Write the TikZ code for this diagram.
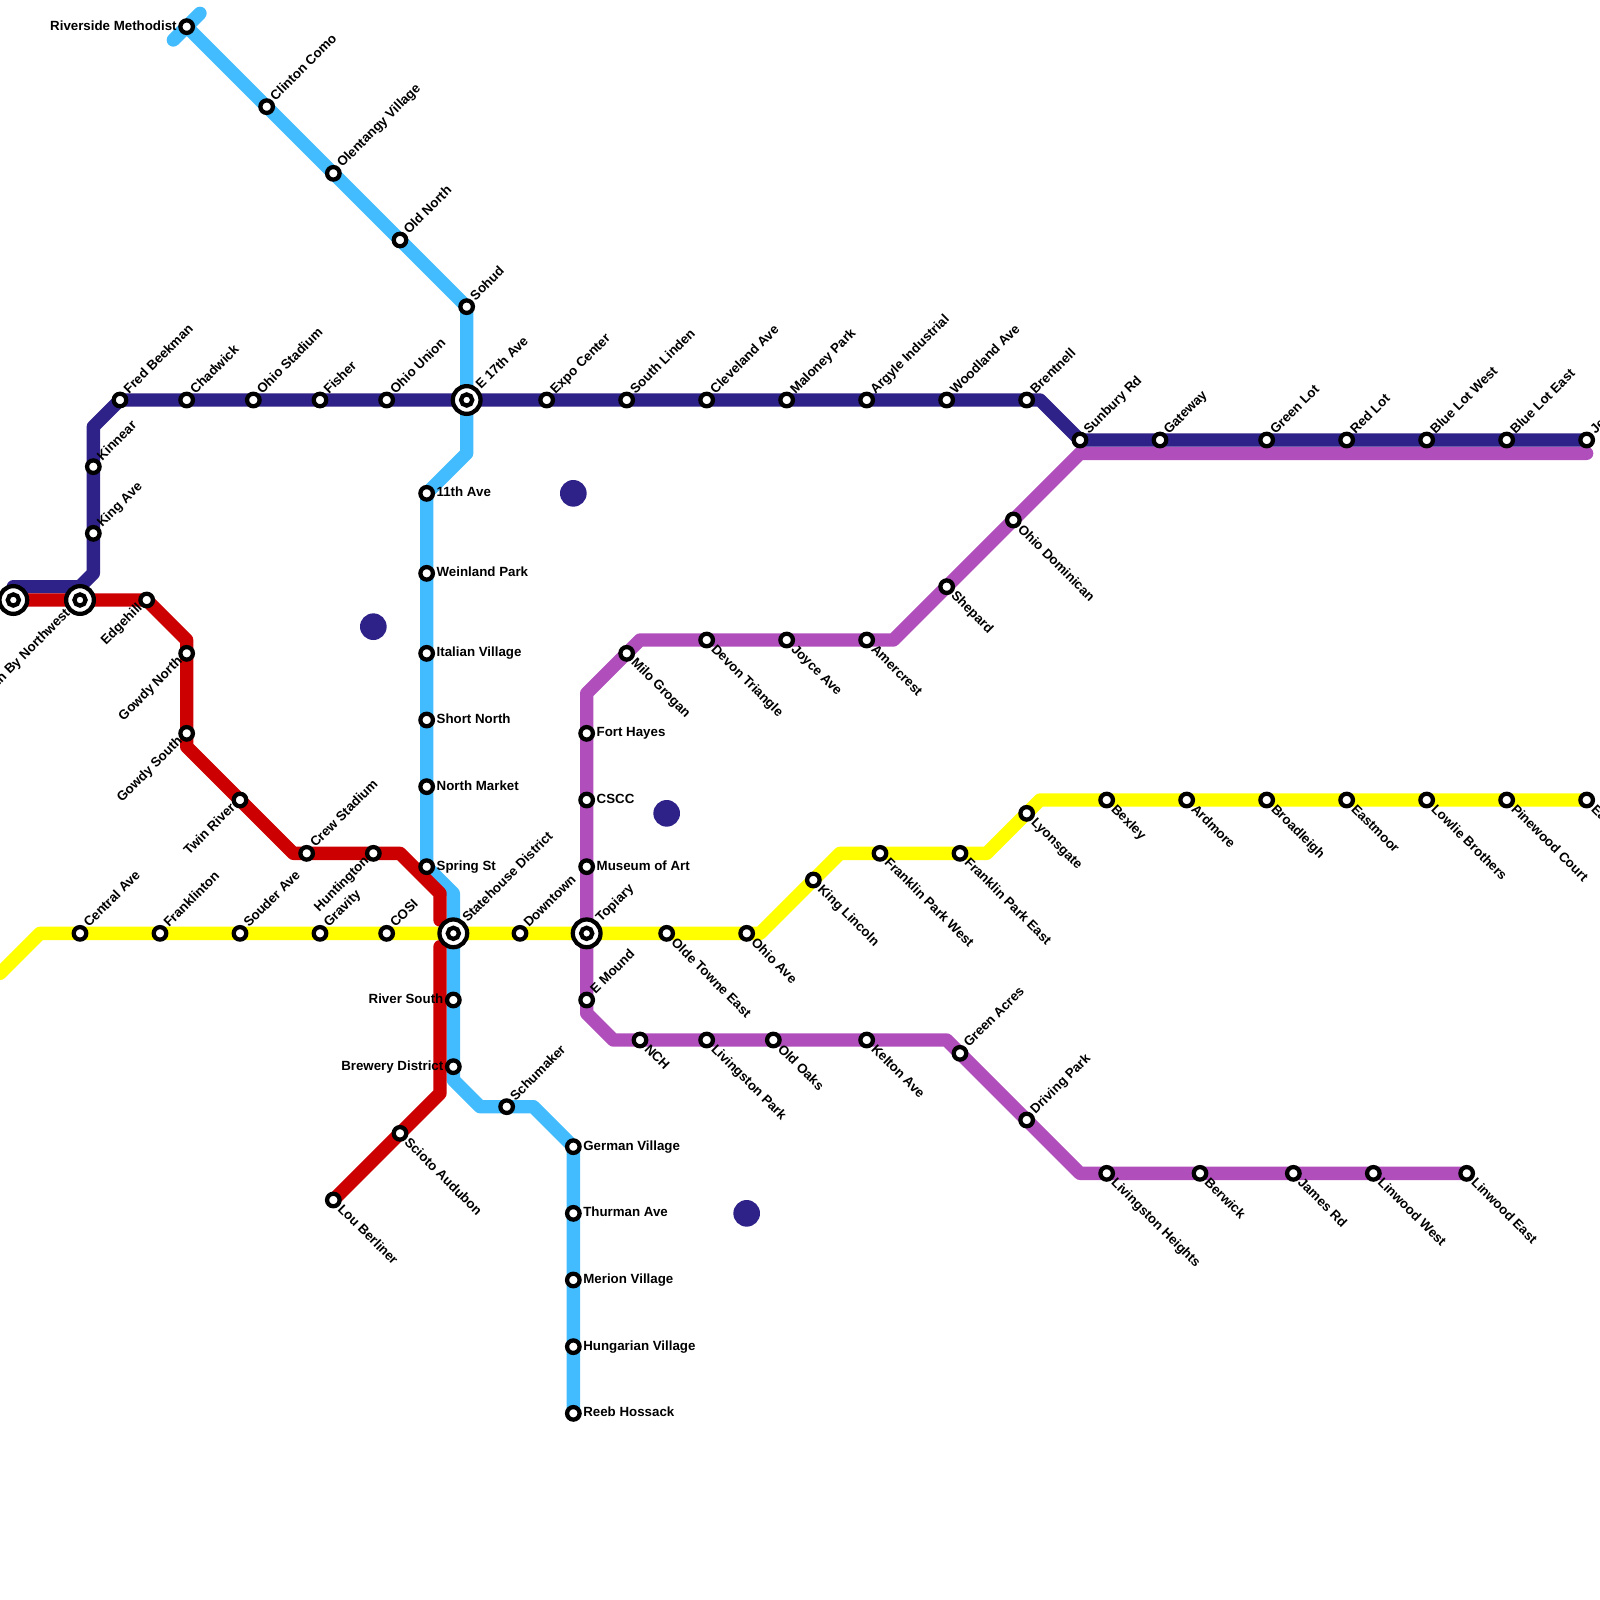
\documentclass[tikz,border=0pt]{standalone}
\usepackage{fontspec}
\setmainfont{Liberation Sans}
\usetikzlibrary{backgrounds}
\definecolor{navyline}{HTML}{2E2188}
\definecolor{skyline}{HTML}{42BBFF}
\definecolor{redline}{HTML}{CC0000}
\definecolor{yellowline}{HTML}{FFFF00}
\definecolor{purpleline}{HTML}{B04FBB}
\newlength{\pxu}\setlength{\pxu}{0.375mm}
\tikzset{
  x=0.5cm,y=-0.5cm,
  metroline/.style={line width=5mm,line cap=round,line join=round},
  stnode/.style={circle,draw=black,fill=white,line width=1.6mm,minimum size=4.7mm,inner sep=0pt,outer sep=0pt},
  hubnode/.style={circle,draw=black,fill=white,line width=1.6mm,minimum size=10.4mm,inner sep=0pt,outer sep=0pt},
  hubcore/.style={circle,draw=black,fill=white,line width=1.6mm,minimum size=4.2mm,inner sep=0pt,outer sep=0pt},
  blob/.style={circle,fill=navyline,minimum size=10mm,inner sep=0pt,outer sep=0pt},
  labbase/.style={inner sep=0pt,outer sep=0pt,font=\fontsize{14.2}{14.2}\selectfont\bfseries,text=black},
  labNE/.style={labbase,anchor=base west,xshift=9*\pxu,yshift=5.4*\pxu,rotate=45},
  labSE/.style={labbase,anchor=base west,xshift=3.9*\pxu,yshift=-10*\pxu,rotate=-45},
  labE/.style={labbase,anchor=base west,xshift=10*\pxu,yshift=-3.5*\pxu},
  labW/.style={labbase,anchor=base east,xshift=-10*\pxu,yshift=-3.5*\pxu},
  labSW/.style={labbase,anchor=base east,xshift=-3.9*\pxu,yshift=-8.7*\pxu,rotate=45},
  hubNE/.style={xshift=5.5*\pxu,yshift=5*\pxu},
  hubSW/.style={xshift=-5.5*\pxu,yshift=-5.5*\pxu},
}
\newcommand{\stn}[5]{\node[stnode] (#1) at (#2,#3) {};\node[lab#4] (#1t) at (#2,#3) {#5};}
\newcommand{\hub}[5]{\node[hubnode] (#1) at (#2,#3) {};\node[hubcore] (#1c) at (#2,#3) {};\node[hub#4,lab#4] (#1t) at (#2,#3) {#5};}
\begin{document}
\begin{tikzpicture}
\clip (0,0) rectangle (120,120);
% navy stations
\node[hubnode] (h1) at (1,45) {};\node[hubcore] (h1c) at (1,45) {};
\hub{nbn}{6}{45}{SW}{North By Northwest}
\stn{kinnear}{7}{35}{NE}{Kinnear}
\stn{king}{7}{40}{NE}{King Ave}
\stn{fred}{9}{30}{NE}{Fred Beekman}
\stn{chadwick}{14}{30}{NE}{Chadwick}
\stn{ohiostad}{19}{30}{NE}{Ohio Stadium}
\stn{fisher}{24}{30}{NE}{Fisher}
\stn{ohiounion}{29}{30}{NE}{Ohio Union}
\hub{e17}{35}{30}{NE}{E 17th Ave}
\stn{expo}{41}{30}{NE}{Expo Center}
\stn{slinden}{47}{30}{NE}{South Linden}
\stn{cleveland}{53}{30}{NE}{Cleveland Ave}
\stn{maloney}{59}{30}{NE}{Maloney Park}
\stn{argyle}{65}{30}{NE}{Argyle Industrial}
\stn{woodland}{71}{30}{NE}{Woodland Ave}
\stn{brentnell}{77}{30}{NE}{Brentnell}
\stn{sunbury}{81}{33}{NE}{Sunbury Rd}
\stn{gateway}{87}{33}{NE}{Gateway}
\stn{green}{95}{33}{NE}{Green Lot}
\stn{redlot}{101}{33}{NE}{Red Lot}
\stn{bluew}{107}{33}{NE}{Blue Lot West}
\stn{bluee}{113}{33}{NE}{Blue Lot East}
\stn{jend}{119}{33}{NE}{Jefferson}
% sky stations
\stn{riverside}{14}{2}{W}{Riverside Methodist}
\stn{clinton}{20}{8}{NE}{Clinton Como}
\stn{olentangy}{25}{13}{NE}{Olentangy Village}
\stn{oldnorth}{30}{18}{NE}{Old North}
\stn{sohud}{35}{23}{NE}{Sohud}
\stn{eleventh}{32}{37}{E}{11th Ave}
\stn{weinland}{32}{43}{E}{Weinland Park}
\stn{italian}{32}{49}{E}{Italian Village}
\stn{shortn}{32}{54}{E}{Short North}
\stn{northm}{32}{59}{E}{North Market}
\stn{spring}{32}{65}{E}{Spring St}
\hub{state}{34}{70}{NE}{Statehouse District}
\stn{rivers}{34}{75}{W}{River South}
\stn{brewery}{34}{80}{W}{Brewery District}
\stn{schumaker}{38}{83}{NE}{Schumaker}
\stn{german}{43}{86}{E}{German Village}
\stn{thurman}{43}{91}{E}{Thurman Ave}
\stn{merion}{43}{96}{E}{Merion Village}
\stn{hungarian}{43}{101}{E}{Hungarian Village}
\stn{reeb}{43}{106}{E}{Reeb Hossack}
% red stations
\stn{edgehill}{11}{45}{SW}{Edgehill}
\stn{gowdyn}{14}{49}{SW}{Gowdy North}
\stn{gowdys}{14}{55}{SW}{Gowdy South}
\stn{twin}{18}{60}{SW}{Twin River}
\stn{crew}{23}{64}{NE}{Crew Stadium}
\stn{huntington}{28}{64}{SW}{Huntington}
\stn{scioto}{30}{85}{SE}{Scioto Audubon}
\stn{lou}{25}{90}{SE}{Lou Berliner}
% yellow stations
\stn{central}{6}{70}{NE}{Central Ave}
\stn{franklinton}{12}{70}{NE}{Franklinton}
\stn{souder}{18}{70}{NE}{Souder Ave}
\stn{gravity}{24}{70}{NE}{Gravity}
\stn{cosi}{29}{70}{NE}{COSI}
\stn{downtown}{39}{70}{NE}{Downtown}
\hub{topiary}{44}{70}{NE}{Topiary}
\stn{olde}{50}{70}{SE}{Olde Towne East}
\stn{ohioave}{56}{70}{SE}{Ohio Ave}
\stn{kinglincoln}{61}{66}{SE}{King Lincoln}
\stn{fpw}{66}{64}{SE}{Franklin Park West}
\stn{fpe}{72}{64}{SE}{Franklin Park East}
\stn{lyons}{77}{61}{SE}{Lyonsgate}
\stn{bexley}{83}{60}{SE}{Bexley}
\stn{ardmore}{89}{60}{SE}{Ardmore}
\stn{broadleigh}{95}{60}{SE}{Broadleigh}
\stn{eastmoor}{101}{60}{SE}{Eastmoor}
\stn{lowlie}{107}{60}{SE}{Lowlie Brothers}
\stn{pinewood}{113}{60}{SE}{Pinewood Court}
\stn{eend}{119}{60}{SE}{Easton}
% purple stations
\stn{ohiodom}{76}{39}{SE}{Ohio Dominican}
\stn{shepard}{71}{44}{SE}{Shepard}
\stn{amercrest}{65}{48}{SE}{Amercrest}
\stn{joyce}{59}{48}{SE}{Joyce Ave}
\stn{devon}{53}{48}{SE}{Devon Triangle}
\stn{milo}{47}{49}{SE}{Milo Grogan}
\stn{fort}{44}{55}{E}{Fort Hayes}
\stn{cscc}{44}{60}{E}{CSCC}
\stn{museum}{44}{65}{E}{Museum of Art}
\stn{emound}{44}{75}{NE}{E Mound}
\stn{nch}{48}{78}{SE}{NCH}
\stn{livpark}{53}{78}{SE}{Livingston Park}
\stn{oldoaks}{58}{78}{SE}{Old Oaks}
\stn{kelton}{65}{78}{SE}{Kelton Ave}
\stn{greenacres}{72}{79}{NE}{Green Acres}
\stn{driving}{77}{84}{NE}{Driving Park}
\stn{livheights}{83}{88}{SE}{Livingston Heights}
\stn{berwick}{90}{88}{SE}{Berwick}
\stn{james}{97}{88}{SE}{James Rd}
\stn{linw}{103}{88}{SE}{Linwood West}
\stn{line}{110}{88}{SE}{Linwood East}
% free bends
\coordinate (nv0) at (1,44);\coordinate (nv1) at (6,44);\coordinate (nv2) at (7,43);\coordinate (nv3) at (7,32);\coordinate (nv4) at (78,30);
\coordinate (sk0) at (13,3);\coordinate (sk1) at (15,1);\coordinate (sk2) at (35,34);\coordinate (sk3) at (34,67);\coordinate (sk4) at (34,81);\coordinate (sk5) at (36,83);\coordinate (sk6) at (40,83);
\coordinate (rd1) at (14,48);\coordinate (rd2) at (14,56);\coordinate (rd3) at (22,64);\coordinate (rd4) at (30,64);\coordinate (rd5) at (33,67);\coordinate (rd6) at (33,69);\coordinate (rd7) at (33,71);\coordinate (rd8) at (33,82);
\coordinate (yl0) at (0,73);\coordinate (yl1) at (3,70);\coordinate (yl2) at (57,70);\coordinate (yl3) at (63,64);\coordinate (yl4) at (74,64);\coordinate (yl5) at (78,60);
\coordinate (pu0) at (119,34);\coordinate (pu1) at (81,34);\coordinate (pu2) at (67,48);\coordinate (pu3) at (48,48);\coordinate (pu4) at (44,52);\coordinate (pu5) at (44,76);\coordinate (pu6) at (46,78);\coordinate (pu7) at (71,78);\coordinate (pu8) at (81,88);
\begin{scope}[on background layer]
\node[blob] (dot1) at (43,37) {};
\node[blob] (dot2) at (28,47) {};
\node[blob] (dot3) at (50,61) {};
\node[blob] (dot4) at (56,91) {};
\draw[metroline,purpleline] (pu0) -- (pu1) -- (pu2) -- (pu3) -- (pu4) -- (pu5) -- (pu6) -- (pu7) -- (pu8) -- (line.center);
\draw[metroline,navyline] (nv0) -- (nv1) -- (nv2) -- (nv3) -- (fred.center) -- (nv4) -- (sunbury.center) -- (jend.center);
\draw[metroline,skyline] (sk0) -- (sk1);
\draw[metroline,skyline] (riverside.center) -- (sohud.center) -- (sk2) -- (eleventh.center) -- (spring.center) -- (sk3) -- (sk4) -- (sk5) -- (sk6) -- (german.center) -- (reeb.center);
\draw[metroline,yellowline] (yl0) -- (yl1) -- (yl2) -- (yl3) -- (yl4) -- (yl5) -- (eend.center);
\draw[metroline,redline] (h1.center) -- (edgehill.center) -- (rd1) -- (rd2) -- (rd3) -- (rd4) -- (rd5) -- (rd6);
\draw[metroline,redline] (rd7) -- (rd8) -- (lou.center);
\end{scope}
\end{tikzpicture}
\end{document}
